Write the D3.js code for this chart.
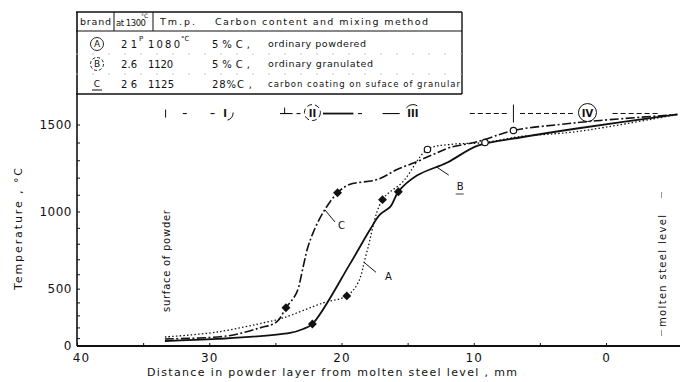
<!DOCTYPE html>
<html><head><meta charset="utf-8">
<script src="https://cdn.jsdelivr.net/npm/d3@7"></script>
<style>
body{margin:0;background:#fff}
svg{display:block}
text{font-family:"DejaVu Sans",sans-serif;fill:#111}
</style>
</head><body>
<svg id="c" width="680" height="382"></svg>
<script>
// ---------- DATA ----------
const xMajorTicks = [40, 30, 20, 10, 0];
const xMinorTicks = [35, 25, 15, 5];
const yMajorTicks = [0, 500, 1000, 1500];
const yMinorTicks = [100, 200, 300, 400, 600, 700, 800, 900, 1100, 1200, 1300, 1400];

// [distance mm, temperature °C]
const seriesA = [[33.35,111],[29.4,159],[25.6,247],[24.4,280],[21.4,396],[19.6,448],[18.75,541],[18.1,742],[16.9,1071],[15.35,1177],[13.5,1361],[11.8,1389],[9.15,1400],[6.5,1433],[2.2,1461],[-5.4,1555]];
const seriesB = [[33.35,69],[29.4,91],[23.9,150],[22.9,186],[22.2,230],[19.4,663],[17.85,888],[17.1,981],[16.3,1029],[15.7,1118],[14.3,1212],[12.0,1287],[9.7,1383],[6.5,1428],[2.2,1478],[-5.4,1555]];
const seriesC = [[33.35,91],[28.66,121],[26.2,195],[24.9,247],[24.2,359],[23.4,470],[22.9,650],[22.6,762],[22.15,869],[21.4,993],[20.3,1112],[19.4,1160],[17.3,1189],[15.8,1247],[14.3,1292],[13.1,1332],[11.8,1372],[9.7,1405],[7.0,1467],[3.5,1500],[0.45,1522],[-5.4,1555]];

const filledMarkers = [[22.2,230],[15.7,1118],[19.6,448],[16.9,1071],[24.2,359],[20.3,1112]];
const openMarkers = [[13.5,1361],[9.15,1400],[7.0,1467]];

const zoneLevel = 1560;
const zoneSegments = [[32.0,31.7],[29.9,29.6],[24.65,23.7],[23.4,23.1],[21.4,19.1],[18.75,18.45],[16.9,15.6],[10.3,7.5],[6.5,2.5],[-0.5,-4.1]];
const zoneLabels = [["I",28.8],["II",22.2],["III",14.6],["IV",1.4]];
const zoneBounds = [24.3, 7.0];

const tableHeader = ["brand","at 1300","Tm.p.","Carbon content and mixing method"];
const brands = ["A","B","C"];
const viscosity = ["2 1","2.6","2 6"];
const meltPoint = ["1080","1120","1125"];
const carbon = ["5 % C ,","5 % C ,","28%C ,"];
const method = ["ordinary powdered","ordinary granulated","carbon coating on suface of granular"];

const surfaceMM = 33.3;
const moltenMM = -4.2;

// ---------- CHART ----------
const svg = d3.select("#c");
const ink = "#111";
const x = d3.scaleLinear().domain([40,0]).range([77,606]);
const y = d3.scalePow().exponent(1.23).domain([0,1500]).range([346,124.5]);

// axes lines
svg.append("line").attr("x1",77).attr("x2",680).attr("y1",y(0)).attr("y2",y(0)).attr("stroke",ink).attr("stroke-width",2);
svg.append("line").attr("x1",77).attr("x2",77).attr("y1",12).attr("y2",y(0)).attr("stroke",ink).attr("stroke-width",1.6);

// x axis
const xa = svg.append("g").attr("transform",`translate(0,${y(0)})`)
  .call(d3.axisBottom(x).tickValues(xMajorTicks).tickSize(-3).tickPadding(7).tickFormat(d3.format("d")));
xa.select(".domain").remove();
xa.selectAll("text").attr("font-size",12).attr("font-family","DejaVu Sans").attr("fill",ink).attr("letter-spacing",1);
xa.selectAll(".tick").filter(d=>d===40).select("text").attr("dx",4);
const xm = svg.append("g").attr("transform",`translate(0,${y(0)})`)
  .call(d3.axisBottom(x).tickValues(xMinorTicks).tickSize(-3).tickFormat(""));
xm.select(".domain").remove();
svg.selectAll(".tick line").attr("stroke",ink);

// y axis
const ya = svg.append("g").attr("transform","translate(77,0)")
  .call(d3.axisLeft(y).tickValues(yMajorTicks).tickSize(-3).tickPadding(5).tickFormat(d3.format("d")));
ya.select(".domain").remove();
ya.selectAll("text").attr("font-size",12).attr("font-family","DejaVu Sans").attr("fill",ink).attr("letter-spacing",0.5);
const ym = svg.append("g").attr("transform","translate(77,0)")
  .call(d3.axisLeft(y).tickValues(yMinorTicks).tickSize(-3).tickFormat(""));
ym.select(".domain").remove();
svg.selectAll(".tick line").attr("stroke",ink);

// axis titles
svg.append("text").attr("transform","translate(22,229) rotate(-90)").attr("text-anchor","middle")
  .attr("font-size",11).attr("textLength",122).attr("lengthAdjust","spacing").text("Temperature , °C");
svg.append("text").attr("x",332).attr("y",376).attr("text-anchor","middle")
  .attr("font-size",11).attr("textLength",370).attr("lengthAdjust","spacing").text("Distance in powder layer from molten steel level , mm");

// side labels
svg.append("text").attr("transform",`translate(${x(surfaceMM)+4},261) rotate(-90)`).attr("text-anchor","middle")
  .attr("font-size",10).attr("textLength",102).attr("lengthAdjust","spacing").text("surface of powder");
svg.append("text").attr("transform",`translate(${x(moltenMM)+4},271) rotate(-90)`).attr("text-anchor","middle")
  .attr("font-size",10).attr("textLength",112).attr("lengthAdjust","spacing").text("molten steel level");
[195,333].forEach(v=>svg.append("line").attr("x1",x(moltenMM)).attr("x2",x(moltenMM)).attr("y1",v-3).attr("y2",v+3).attr("stroke","#777").attr("stroke-width",0.8));

// curves
const line = d3.line().x(d=>x(d[0])).y(d=>y(d[1])).curve(d3.curveCatmullRom.alpha(0.5));
svg.append("path").datum(seriesA).attr("d",line).attr("fill","none").attr("stroke",ink).attr("stroke-width",1.3).attr("stroke-dasharray","1.5,2.2");
svg.append("path").datum(seriesB).attr("d",line).attr("fill","none").attr("stroke",ink).attr("stroke-width",1.8);
svg.append("path").datum(seriesC).attr("d",line).attr("fill","none").attr("stroke",ink).attr("stroke-width",1.6).attr("stroke-dasharray","9,2.5,2,2.5");

// markers
svg.selectAll(".fm").data(filledMarkers).join("path").attr("class","fm")
  .attr("d",d3.symbol(d3.symbolSquare,40)).attr("transform",d=>`translate(${x(d[0])},${y(d[1])}) rotate(45)`).attr("fill",ink);
svg.selectAll(".om").data(openMarkers).join("circle").attr("class","om")
  .attr("cx",d=>x(d[0])).attr("cy",d=>y(d[1])).attr("r",3.2).attr("fill","#fff").attr("stroke",ink).attr("stroke-width",1.2);

// curve annotations
function leader(series, mm, dx, dy, label, lx, ly){
  const px = x(mm), py = y(d3.scaleLinear().domain(series.map(d=>d[0])).range(series.map(d=>d[1]))(mm));
  svg.append("line").attr("x1",px).attr("y1",py).attr("x2",px+dx).attr("y2",py+dy).attr("stroke",ink).attr("stroke-width",1);
  svg.append("text").attr("x",px+lx).attr("y",py+ly).attr("font-size",10).attr("dominant-baseline","middle").text(label);
}
leader(seriesA,18.3,12,10,"A",21,15);
leader(seriesB,12.8,12,8,"B",20,20);
leader(seriesC,21.25,10,12,"C",13,16);
// underline on B annotation
svg.append("line").attr("x1",x(12.8)+19).attr("x2",x(12.8)+27).attr("y1",y(1250)+25).attr("y2",y(1250)+25).attr("stroke",ink).attr("stroke-width",0.8);

// zone line
const zy = y(zoneLevel);
svg.selectAll(".zs").data(zoneSegments).join("line").attr("class","zs")
  .attr("x1",d=>x(d[0])).attr("x2",d=>x(d[1])).attr("y1",zy).attr("y2",zy)
  .attr("stroke",ink).attr("stroke-width",(d,i)=>i===4?1.8:1.1).attr("stroke-dasharray",(d,i)=>i>=7?"5,3":null);
zoneBounds.forEach((b,i)=>svg.append("line").attr("x1",x(b)).attr("x2",x(b)).attr("y1",zy-(i?9:6)).attr("y2",zy+(i?9:0)).attr("stroke",ink).attr("stroke-width",1));
svg.append("line").attr("x1",x(surfaceMM)).attr("x2",x(surfaceMM)).attr("y1",zy-4).attr("y2",zy+4).attr("stroke",ink).attr("stroke-width",1);
zoneLabels.forEach(([t,mm],i)=>{
  const cx = x(mm);
  const c = svg.append("circle").attr("cx",cx).attr("cy",zy-1).attr("r",i===3?9:8).attr("fill","none").attr("stroke",ink).attr("stroke-width",1);
  if(i===0) c.attr("stroke-dasharray","10,40");
  if(i===1) c.attr("stroke-dasharray","5,3");
  if(i===2) c.attr("stroke-dasharray","0,30,12,30");
  svg.append("text").attr("x",cx).attr("y",zy).attr("text-anchor","middle").attr("dominant-baseline","middle")
    .attr("font-size",i===3?10:10).attr("font-weight","bold").attr("font-family","DejaVu Serif").text(t);
});

// ---------- TABLE ----------
const tL = 76, tR = 462, tT = 12, tHB = 31, tB = 94;
const rowY = [44, 64, 84];
const tg = svg.append("g");
tg.append("line").attr("x1",tL).attr("x2",tR).attr("y1",tT).attr("y2",tT).attr("stroke",ink).attr("stroke-width",1.6);
tg.append("line").attr("x1",tL).attr("x2",tR).attr("y1",tHB).attr("y2",tHB).attr("stroke",ink).attr("stroke-width",1.2);
tg.append("line").attr("x1",tL).attr("x2",tR).attr("y1",tB).attr("y2",tB).attr("stroke",ink).attr("stroke-width",1.4);
tg.append("line").attr("x1",tR).attr("x2",tR).attr("y1",tT).attr("y2",tB).attr("stroke",ink).attr("stroke-width",1.4);
[114,153].forEach(v=>tg.append("line").attr("x1",v).attr("x2",v).attr("y1",tT).attr("y2",tHB).attr("stroke",ink).attr("stroke-width",1));
[54,74].forEach(v=>tg.append("line").attr("x1",tL).attr("x2",tR).attr("y1",v).attr("y2",v).attr("stroke","#bbb").attr("stroke-width",0.8).attr("stroke-dasharray","2,14"));

const fs = 9.5;
function t(xp, yp, s, opt={}){
  const e = tg.append("text").attr("x",xp).attr("y",yp).attr("font-size",opt.fs||fs).attr("dominant-baseline","middle").text(s);
  if(opt.len) e.attr("textLength",opt.len).attr("lengthAdjust","spacing");
  if(opt.anchor) e.attr("text-anchor",opt.anchor);
  return e;
}
t(80,22,tableHeader[0],{len:31});
t(116,23,tableHeader[1],{fs:8.5,len:30});
t(141,16,"°C",{fs:6});
t(160,22,tableHeader[2],{len:35});
t(215,22,tableHeader[3],{len:213});

rowY.forEach((ry,i)=>{
  // brand symbol
  t(97,ry,brands[i],{anchor:"middle",fs:9});
  if(i<2){
    const c = tg.append("circle").attr("cx",97).attr("cy",ry).attr("r",6.5).attr("fill","none").attr("stroke",ink).attr("stroke-width",0.9);
    if(i===1) c.attr("stroke-dasharray","3,2");
  } else {
    tg.append("line").attr("x1",92).attr("x2",102).attr("y1",ry+6).attr("y2",ry+6).attr("stroke",ink).attr("stroke-width",1);
  }
  t(121,ry+1,viscosity[i],{len:16,fs:10});
  t(148,ry+1,meltPoint[i],{len:i===0?32:(i===1?25:26),fs:10});
  t(212,ry+1,carbon[i],{len:i===2?40:38,fs:10});
  t(268,ry,method[i],{len:i===0?98:(i===1?105:192),fs:i===2?8.5:9.5});
});
t(139,rowY[0]-5,"P",{fs:7});
t(181,rowY[0]-5,"°C",{fs:7});
</script>
</body></html>
